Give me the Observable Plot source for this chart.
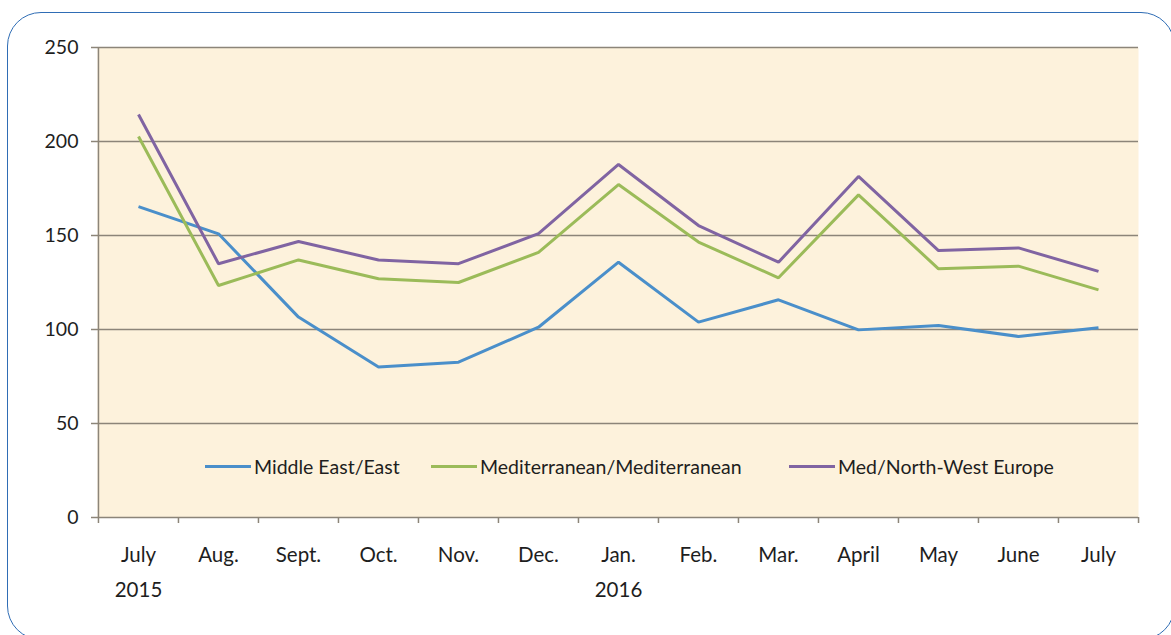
<!DOCTYPE html>
<html>
<head>
<meta charset="utf-8">
<script src="https://cdn.jsdelivr.net/npm/d3@7"></script>
<script src="https://cdn.jsdelivr.net/npm/@observablehq/plot@0.6"></script>
<style>
  html, body { margin: 0; padding: 0; background: #ffffff; }
  #wrap { position: relative; width: 1171px; height: 635px; overflow: hidden; font-family: Lato, "Open Sans", sans-serif; }
  #border { position: absolute; left: 7px; top: 12px; width: 1168px; height: 628px; border: 1.5px solid #2f6db5; border-radius: 34px; box-sizing: border-box; pointer-events: none; }
  #legend { position: absolute; top: 455px; left: 0; width: 1171px; height: 26px; font-size: 19.5px; color: #1e1e1e; }
  .item { position: absolute; display: flex; align-items: center; white-space: nowrap; }
  .sw { display: inline-block; width: 46px; height: 3.5px; margin-right: 3px; }
</style>
</head>
<body>
<div id="wrap">
  <div id="chart"></div>
  <div id="legend"></div>
  <div id="border"></div>
</div>
<script>
const categories = ["2015-07","2015-08","2015-09","2015-10","2015-11","2015-12","2016-01","2016-02","2016-03","2016-04","2016-05","2016-06","2016-07"];
const tickLabels = ["July\n2015","Aug.","Sept.","Oct.","Nov.","Dec.","Jan.\n2016","Feb.","Mar.","April","May","June","July"];
const seriesNames = ["Middle East/East","Mediterranean/Mediterranean","Med/North-West Europe"];
const seriesColors = ["#4a8fca","#9bbb59","#8064a2"];
const middleEastEast = [165.4,150.9,106.6,80.0,82.6,101.2,135.8,103.9,115.8,99.8,102.1,96.3,100.9];
const medMed = [202.7,123.4,137.0,127.0,125.0,141.0,177.1,146.5,127.5,171.6,132.3,133.7,121.1];
const medNWEurope = [214.4,135.0,146.8,137.0,135.0,151.0,187.8,155.3,135.8,181.4,142.0,143.4,130.9];
const yTicks = [0,50,100,150,200,250];

const W = 1171, H = 635, ml = 97, mr = 33, mt = 47, mb = 118;
const step = (W - ml - mr) / categories.length;
const gridColor = "#8c8579";

const seriesValues = [middleEastEast, medMed, medNWEurope];
const rows = seriesValues.flatMap((vals, s) => vals.map((v, i) => ({series: seriesNames[s], month: categories[i], value: v})));

const chart = Plot.plot({
  width: W, height: H,
  marginLeft: ml, marginRight: mr, marginTop: mt, marginBottom: mb,
  style: {fontFamily: "Lato, 'Open Sans', sans-serif", color: "#1e1e1e", background: "transparent"},
  x: {type: "point", domain: categories, padding: 0.5},
  y: {domain: [0, 250]},
  color: {domain: seriesNames, range: seriesColors},
  marks: [
    Plot.frame({fill: "#fdf2dc", stroke: null}),
    Plot.gridY(yTicks.filter(d => d > 0), {stroke: gridColor, strokeOpacity: 1, strokeWidth: 1.5}),
    Plot.ruleY([0], {stroke: gridColor, strokeWidth: 1.5}),
    Plot.ruleX(categories.slice(0, 1), {x: d => d, dx: -step / 2, y1: 0, y2: 250, stroke: gridColor, strokeWidth: 1.5}),
    Plot.ruleX(categories, {x: d => d, dx: -step / 2, y1: 0, y2: 0, insetBottom: -6, stroke: gridColor, strokeWidth: 1.5}),
    Plot.ruleX(categories.slice(-1), {x: d => d, dx: step / 2, y1: 0, y2: 0, insetBottom: -6, stroke: gridColor, strokeWidth: 1.5}),
    Plot.axisY({ticks: yTicks, tickSize: 6, tickPadding: 13, fontSize: 19.5, stroke: gridColor, strokeWidth: 1.5, label: null}),
    Plot.axisX({tickSize: 0, tickPadding: 20, fontSize: 20.5, lineHeight: 1.7, tickFormat: d => tickLabels[categories.indexOf(d)], label: null}),
    Plot.line(rows, {x: "month", y: "value", z: "series", stroke: "series", strokeWidth: 3, strokeLinejoin: "miter", strokeLinecap: "butt"})
  ]
});
document.getElementById("chart").appendChild(chart);

const legendPos = [205, 431, 789];
const legend = document.getElementById("legend");
seriesNames.forEach((name, i) => {
  const item = document.createElement("div");
  item.className = "item";
  item.style.left = legendPos[i] + "px";
  const sw = document.createElement("span");
  sw.className = "sw";
  sw.style.background = seriesColors[i];
  const t = document.createElement("span");
  t.textContent = name;
  item.appendChild(sw);
  item.appendChild(t);
  legend.appendChild(item);
});
</script>
</body>
</html>
